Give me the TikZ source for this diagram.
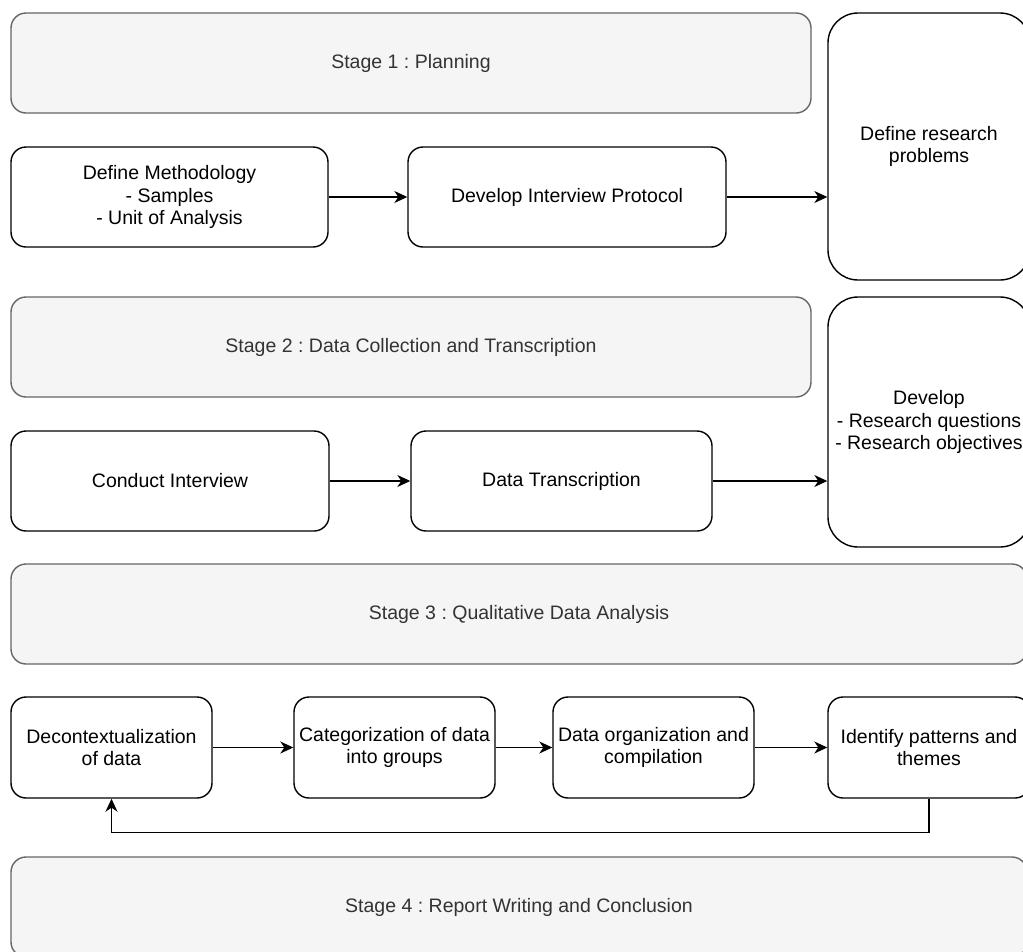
\documentclass[tikz,border=0pt]{standalone}
\usepackage{fontspec}
\setmainfont{Liberation Sans}
\usepackage{tikz}
\usetikzlibrary{arrows.meta}
\definecolor{stagefill}{HTML}{F5F5F5}
\definecolor{stageline}{HTML}{666666}
\definecolor{stagetext}{HTML}{333333}
\frenchspacing

\begin{document}
\begin{tikzpicture}[x=1pt,y=-1pt,
	box/.style={draw=black,fill=white,rounded corners=15pt,line width=1.4pt,inner sep=0pt,align=center,
		font=\fontsize{19.5}{22.5}\selectfont},
	tallbox/.style={box,rounded corners=30pt,minimum width=202pt},
	stagebox/.style={box,draw=stageline,fill=stagefill,text=stagetext,minimum height=100pt},
	flow/.style={line width=1.4pt,-{Stealth[length=13pt,width=12pt,inset=4pt]}}]
	\useasboundingbox (0,0) rectangle (1023,951);
	% stage bars
	\node[stagebox,minimum width=800pt] (stage1) at (411,63) {Stage 1 : Planning};
	\node[stagebox,minimum width=800pt] (stage2) at (411,347) {Stage 2 : Data Collection and Transcription};
	\node[stagebox,minimum width=1016pt] (stage3) at (519,614) {Stage 3 : Qualitative Data Analysis};
	\node[stagebox,minimum width=1016pt] (stage4) at (519,907) {Stage 4 : Report Writing and Conclusion};
	% research boxes on the right
	\node[tallbox,minimum height=267pt] (problems) at (929,146.5) {Define research\\problems};
	\node[tallbox,minimum height=250pt] (develop) at (929,422) {Develop\\- Research questions\\- Research objectives};
	% stage 1
	\node[box,minimum width=317pt,minimum height=100pt] (method) at (169.5,197) {Define Methodology\\- Samples\\- Unit of Analysis};
	\node[box,minimum width=318pt,minimum height=100pt] (protocol) at (567,197) {Develop Interview Protocol};
	\draw[flow] (method) -- (protocol);
	\draw[flow] (protocol.east) -- (protocol.east -| problems.west);
	% stage 2
	\node[box,minimum width=318pt,minimum height=100pt] (interview) at (170,481) {Conduct Interview};
	\node[box,minimum width=301pt,minimum height=100pt] (transcript) at (561.5,481) {Data Transcription};
	\draw[flow] (interview) -- (transcript);
	\draw[flow] (transcript.east) -- (transcript.east -| develop.west);
	% stage 3
	\node[box,minimum width=201pt,minimum height=101pt] (decontext) at (111.5,747.5) {Decontextualization\\of data};
	\node[box,minimum width=201pt,minimum height=101pt] (categorize) at (394.5,747.5) {Categorization of data\\into groups};
	\node[box,minimum width=201pt,minimum height=101pt] (organize) at (653.5,747.5) {Data organization and\\compilation};
	\node[box,minimum width=202pt,minimum height=101pt] (patterns) at (929,747.5) {Identify patterns and\\themes};
	\draw[flow] (decontext) -- (categorize);
	\draw[flow] (categorize) -- (organize);
	\draw[flow] (organize) -- (patterns);
	\draw[flow] (patterns.south) -- ++(0,34) -| (decontext.south);
\end{tikzpicture}
\end{document}
